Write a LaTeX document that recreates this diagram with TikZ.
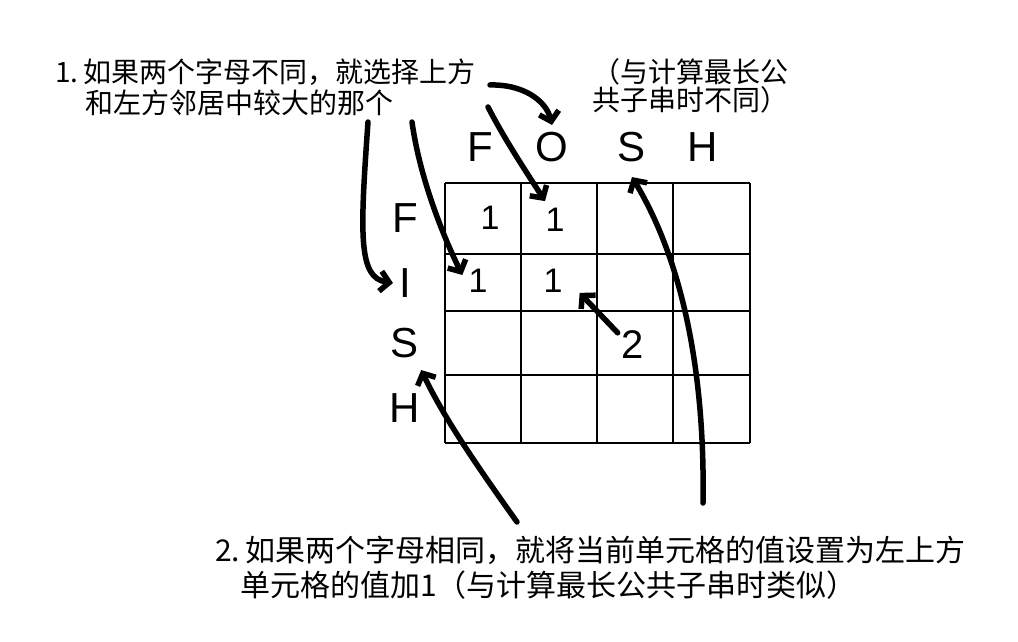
\documentclass[tikz,border=0pt]{standalone}
\usepackage{fontspec}
\newfontfamily\cjk{Noto Sans CJK SC}
\newfontfamily\hand{Liberation Sans}
\usetikzlibrary{arrows.meta,positioning}

\begin{document}
\begin{tikzpicture}[x=1pt, y=-1pt,
    note/.style={anchor=west, inner sep=0pt, font=\cjk\fontsize{28}{30}\selectfont},
    bignote/.style={anchor=west, inner sep=0pt, font=\cjk\fontsize{30}{32}\selectfont},
    lbl/.style={inner sep=0pt, font=\hand\fontsize{42}{44}\selectfont},
    val/.style={inner sep=0pt, font=\hand\fontsize{34}{36}\selectfont},
    gridline/.style={line width=1.8pt},
    pointer/.style={line width=5.5pt, line cap=round, -{Straight Barb[length=9pt,width=20pt]}},
    >=Stealth
]
\useasboundingbox (0,0) rectangle (1018,642);

% notes
\node[note] (NoteOneA) at (55,72) {1.\,如果两个字母不同，就选择上方};
\node[note] (NoteOneB) at (85,103) {和左方邻居中较大的那个};
\node[note] (NoteDiffA) at (592,72) {（与计算最长公};
\node[note] (NoteDiffB) at (592,100) {共子串时不同）};
\node[bignote] (NoteTwoA) at (215,550) {2.\,如果两个字母相同，就将当前单元格的值设置为左上方};
\node[bignote] (NoteTwoB) at (240,585) {单元格的值加1（与计算最长公共子串时类似）};

% grid
\foreach \x in {445, 521, 597, 673, 750}
    \draw[gridline] (\x,183) -- (\x,443);
\foreach \y in {183, 254, 311, 375, 443}
    \draw[gridline] (445,\y) -- (750,\y);

% column and row letters
\foreach \i/\x/\lab in {a/480/F, b/552/O, c/632/S, d/703/H}
    \node[lbl] (Col\i) at (\x,147) {\lab};
\foreach \i/\y/\lab in {a/218/F, b/283/I, c/343/S, d/408/H}
    \node[lbl] (Row\i) at (405,\y) {\lab};

% cell values
\node[val] (Vaa) at (490,218) {1};
\node[val] (Vab) at (555,220) {1};
\node[val] (Vba) at (478,281) {1};
\node[val] (Vbb) at (553,281) {1};
\node[val, font=\hand\fontsize{40}{42}\selectfont] (Vcc) at (633,345) {2};

% arrow ends
\coordinate (pA) at (368,122);
\coordinate (pB) at (412,122);
\coordinate (pC) at (488,107);
\coordinate (pD) at (490,85);
\coordinate (pE) at (517,522);
\coordinate (pF) at (703,503);

\draw[pointer] (pA) .. controls (360,235) and (358,278) .. ([xshift=-6pt]Rowb.west);
\draw[pointer] (pB) .. controls (420,180) and (445,240) .. ([xshift=-6pt,yshift=6pt]Vba.west);
\draw[pointer] (pC) .. controls (505,140) and (525,170) .. ([xshift=-10pt,yshift=7pt]Vab.north);
\draw[pointer] (pD) .. controls (522,84) and (546,100) .. ([yshift=7pt]Colb.north);
\draw[pointer] (pE) .. controls (480,470) and (445,420) .. ([xshift=2pt,yshift=-12pt]Rowc.south east);
\draw[pointer] (pF) .. controls (705,380) and (685,265) .. ([yshift=-15pt]Colc.south);
\draw[pointer] ([xshift=-4pt,yshift=-2pt]Vcc.north west) -- ([xshift=17pt]Vbb.south east);
\end{tikzpicture}
\end{document}
